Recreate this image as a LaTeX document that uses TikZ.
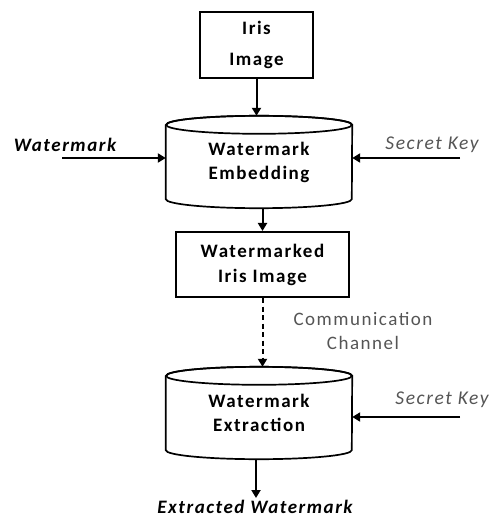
\documentclass[tikz,border=0pt]{standalone}
\usepackage{fontspec}
\setmainfont{Carlito}[LetterSpace=8]
\usetikzlibrary{arrows.meta}
\definecolor{lbl}{HTML}{555555}
\tikzset{
  box/.style={draw, line width=2pt, minimum width=#1, inner sep=0pt, align=center,
    font=\fontsize{19}{25}\selectfont\bfseries},
  cylbody/.style={draw=none, minimum width=186pt, minimum height=92pt, inner sep=0pt,
    align=center, font=\fontsize{19}{24}\selectfont\bfseries},
  cyl/.style={line width=1.7pt},
  arr/.style={line width=2pt, -{Triangle[length=8pt,width=9pt]}},
  darr/.style={arr, dash pattern=on 5pt off 3.5pt},
  inlbl/.style={font=\fontsize{19}{24}\selectfont\bfseries\itshape},
  keylbl/.style={font=\fontsize{19.5}{24}\selectfont\itshape, text=lbl},
  chlbl/.style={font=\fontsize{19}{24}\selectfont, text=lbl, align=center}
}
\begin{document}
\begin{tikzpicture}[x=1pt,y=1pt]
\useasboundingbox (0,0) rectangle (489,-518);
% nodes
\node[box=113pt, minimum height=66pt] (iris) at (256.5,-45) {Iris\\[6pt]Image};
\node[cylbody] (c1) at (259,-162) {Watermark\\Embedding};
\node[box=173pt, minimum height=65pt] (wmi) at (262.5,-264.5) {Watermarked\\Iris Image};
\node[cylbody] (c2) at (259,-413) {Watermark\\Extraction};
\node[inlbl] (wm) at (65,-145) {Watermark};
\node[keylbl] (sk1) at (432,-145) {Secret Key};
\node[keylbl] (sk2) at (442,-400) {Secret Key};
\node[chlbl] (ch) at (363,-331) {Communication\\Channel};
\node[inlbl, anchor=base, inner sep=1pt] (ext) at (255,-513.5) {Extracted Watermark};
\coordinate (wmstart) at (62,-158);
\coordinate (sk1start) at (460,-158);
\coordinate (sk2start) at (460,-417);
\coordinate (extend) at (256,-498);
% cylinders
\foreach \c in {c1,c2}{
  \draw[cyl] ([yshift=-9pt]\c.north west) -- ([yshift=9pt]\c.south west)
     arc (180:360:93pt and 9pt) -- ([yshift=-9pt]\c.north east)
     arc (0:180:93pt and 9pt);
  \draw[cyl] ([yshift=-9pt]\c.north) ellipse (93pt and 9pt);
}
% connectors
\draw[arr] (iris.south) -- (iris.south |- c1.north);
\draw[arr] (wmstart) -- (c1.west |- wmstart);
\draw[arr] (sk1start) -- (c1.east |- sk1start);
\draw[arr] (wmi.north |- c1.south) -- (wmi.north);
\draw[darr] (wmi.south) -- (wmi.south |- c2.north);
\draw[arr] (sk2start) -- (c2.east |- sk2start);
\draw[arr] (extend |- c2.south) -- (extend);
\end{tikzpicture}
\end{document}
